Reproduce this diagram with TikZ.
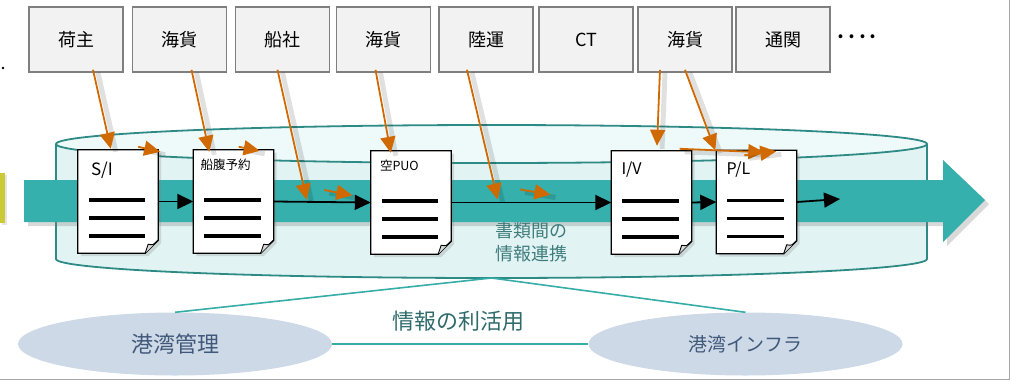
\documentclass[tikz,border=0pt]{standalone}
\usepackage{fontspec}
\setmainfont{Noto Sans CJK JP}
\usetikzlibrary{arrows.meta,calc,shadows,shapes.geometric}
\definecolor{teal1}{HTML}{35B0AC}
\definecolor{cylfill}{HTML}{E1F4F3}
\definecolor{cyltop}{HTML}{EEF9F9}
\definecolor{cylline}{HTML}{2E8A84}
\definecolor{orng}{HTML}{D06A00}
\definecolor{boxfill}{HTML}{F2F2F2}
\definecolor{boxline}{HTML}{7F7F7F}
\definecolor{ellfill}{HTML}{CDD9E6}
\definecolor{elltext}{HTML}{40587A}
\definecolor{tealtext}{HTML}{3F7C7C}
\definecolor{tealtext2}{HTML}{2F6B6B}
\definecolor{lnteal}{HTML}{36ADA6}
\definecolor{yel}{HTML}{CACA36}
\definecolor{frame}{HTML}{A6A6A6}
\newcommand\drawdoc[1]{%
  \draw[fill=white, line width=1.3pt, drop shadow={opacity=0.25, shadow xshift=3pt, shadow yshift=-3pt}]
    (#1.north west) -- (#1.north east) -- ($(#1.south east)+(0,-13)$) -- ($(#1.south east)+(-13,0)$) -- (#1.south west) -- cycle;
  \draw[fill=gray!30, line width=0.9pt, line join=round] ($(#1.south east)+(0,-13)$) .. controls ($(#1.south east)+(-5,-8)$) .. ($(#1.south east)+(-10,-9)$) -- ($(#1.south east)+(-13,0)$);
  \foreach \yy in {50,68,86} {\draw[line width=3.6pt] ($(#1.north west)+(11,\yy)$) -- ($(#1.north east)+(-13,\yy)$);}
}
\begin{document}
\begin{tikzpicture}[x=1pt,y=-1pt,
  topbox/.style={draw=boxline, line width=1.6pt, fill=boxfill, minimum width=94pt, minimum height=65pt, inner sep=0pt, font=\fontsize{18}{20}\selectfont},
  docnode/.style={minimum width=80pt, minimum height=103pt, inner sep=0pt},
  doclabel/.style={anchor=west, inner sep=0pt},
  blk/.style={line width=1.8pt, -{Triangle[length=16pt,width=15pt]}},
  oarr/.style={orng, line width=1.8pt, -{Triangle[length=16pt,width=15pt]},
    preaction={draw=black, draw opacity=0.12, line width=5pt, arrows={-}, transform canvas={xshift=5pt,yshift=-3pt}}},
  ell/.style={ellipse, fill=ellfill, minimum width=314pt, minimum height=63pt, inner sep=0pt},
  tline/.style={lnteal, line width=1.6pt}
]
\useasboundingbox (0,0) rectangle (1012,381);
% frame
\draw[frame, line width=1.6pt] (1009.5,0) -- (1009.5,379.5) -- (0,379.5);
% left remnants
\fill (3,68) circle (1.4pt);
\fill[yel, drop shadow={opacity=0.2, shadow xshift=2pt, shadow yshift=-2pt}] (0,173) rectangle (5,223);
% cylinder
\draw[fill=cylfill, draw=cylline, line width=1.8pt] (56,144) -- (56,259) arc[start angle=180, end angle=360, x radius=435.5pt, y radius=19pt] -- (927,144);
\draw[fill=cyltop, draw=cylline, line width=1.8pt] (491.5,144) ellipse [x radius=435.5pt, y radius=19pt];
\coordinate (cylbot) at (491.5,278);
% teal arrow
\fill[teal1, drop shadow={opacity=0.3, shadow xshift=4pt, shadow yshift=-4pt}] (24,180) -- (943,180) -- (943,160) -- (985,200) -- (943,242) -- (943,222) -- (24,222) -- cycle;
% top boxes
\node[topbox] (b1) at (76,39.5) {荷主};
\node[topbox] (b2) at (179.5,39.5) {海貨};
\node[topbox] (b3) at (282.5,39.5) {船社};
\node[topbox] (b4) at (383.5,39.5) {海貨};
\node[topbox] (b5) at (486,39.5) {陸運};
\node[topbox] (b6) at (586,39.5) {CT};
\node[topbox] (b7) at (685,39.5) {海貨};
\node[topbox] (b8) at (783,39.5) {通関};
\node[font=\fontsize{18}{20}\selectfont\bfseries] (dots) at (857,39) {····};
% documents
\node[docnode] (d1) at (118,201.5) {};
\node[docnode] (d2) at (233.5,201.5) {};
\node[docnode] (d3) at (411,202.5) {};
\node[docnode] (d4) at (651.5,202.5) {};
\node[docnode] (d5) at (756.5,202) {};
\drawdoc{d1}\drawdoc{d2}\drawdoc{d3}\drawdoc{d4}\drawdoc{d5}
\node[doclabel, font=\fontsize{17}{19}\selectfont] (l1) at ($(d1.north west)+(13,20)$) {S/I};
\node[doclabel, font=\fontsize{12.5}{14}\selectfont] (l2) at ($(d2.north west)+(7,15)$) {船腹予約};
\node[doclabel, font=\fontsize{12.5}{14}\selectfont] (l3) at ($(d3.north west)+(9,15)$) {空PUO};
\node[doclabel, font=\fontsize{16}{18}\selectfont] (l4) at ($(d4.north west)+(10,19)$) {I/V};
\node[doclabel, font=\fontsize{16}{18}\selectfont] (l5) at ($(d5.north west)+(10,19)$) {P/L};
% black flow arrows
\coordinate (endflow) at (840,199);
\draw[blk] (d1.east) -- (d2.west);
\draw[blk] (d2.east) -- (d3.west);
\draw[blk] (d3.east) -- (d4.west);
\draw[blk] (d4.east) -- (d5.west);
\draw[blk] (d5.east) -- (endflow);
% middle text
\node[tealtext, font=\fontsize{18}{23}\selectfont, align=center] (mid) at (531,242) {書類間の\\情報連携};
% orange arrows
\draw[oarr] ($(b1.south)+(17,-3)$) -- ($(d1.north west)+(33,-1)$);
\draw[oarr] ($(d1.north east)+(-20,-3)$) -- ($(d1.north east)+(2,2)$);
\draw[oarr] ($(b2.south)+(12,-3)$) -- ($(d2.north west)+(16,2)$);
\draw[oarr] ($(d2.north east)+(-35,-3)$) -- ($(d2.north east)+(-14,1)$);
\draw[oarr] ($(b3.south)+(-5,-3)$) -- ($(d2.east)!0.34!(d3.west)+(0,-2)$);
\draw[oarr] ($(d2.east)!0.52!(d3.west)+(0,-12)$) -- ($(d2.east)!0.81!(d3.west)+(0,-7)$);
\draw[oarr] ($(b4.south)+(-8,-3)$) -- ($(d3.north west)+(20,2)$);
\draw[oarr] ($(b5.south)+(-19,-3)$) -- ($(d3.east)!0.29!(d4.west)+(0,-3)$);
\draw[oarr] ($(d3.east)!0.43!(d4.west)+(0,-13)$) -- ($(d3.east)!0.62!(d4.west)+(0,-8)$);
\draw[oarr] ($(b7.south)+(-25,-3)$) -- ($(d4.north)+(5.5,-5)$);
\draw[oarr] ($(b7.south)+(0,-3)$) -- ($(d5.north west)+(-1,0)$);
\draw[oarr] ($(d4.north east)+(-12,-2)$) -- ($(d5.north west)+(48,2)$);
\draw[oarr] ($(d5.north west)+(28,5)$) -- ($(d5.north west)+(60,1)$);
% bottom part
\node[ell, text=elltext, font=\fontsize{22}{24}\selectfont] (e1) at (175,344) {港湾管理};
\node[ell, text=elltext, font=\fontsize{19}{21}\selectfont] (e2) at (745.5,344) {港湾インフラ};
\draw[tline] (cylbot) -- (e1.north);
\draw[tline] (cylbot) -- (e2.north);
\draw[tline] (e1.east) -- (e2.west);
\node[tealtext2, font=\fontsize{22}{24}\selectfont] (use) at (458,321) {情報の利活用};
\end{tikzpicture}
\end{document}
